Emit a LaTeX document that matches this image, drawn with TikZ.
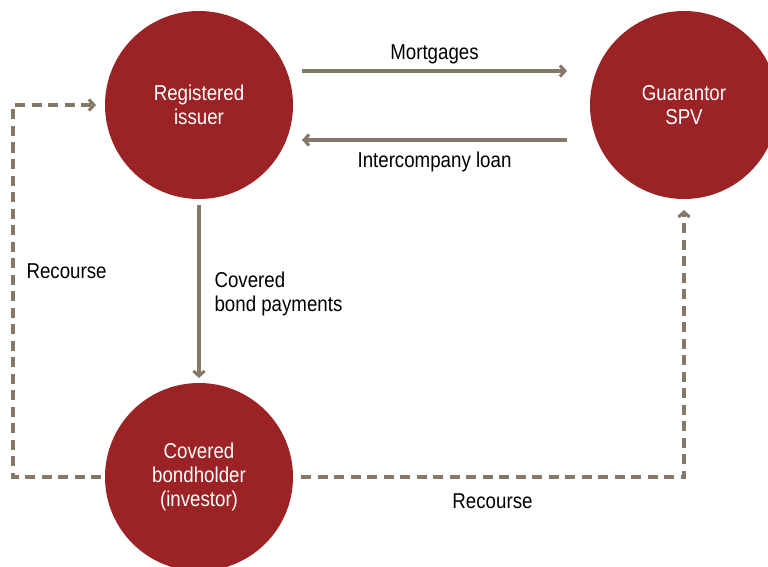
\documentclass[tikz,border=0pt]{standalone}
\usepackage{fontspec}
\setmainfont[FakeStretch=0.87]{Liberation Sans}
\usetikzlibrary{arrows.meta}
\definecolor{bankred}{RGB}{155,35,38}
\definecolor{flowgrey}{RGB}{134,120,104}

\begin{document}
\begin{tikzpicture}[x=1pt,y=-1pt]
    \tikzset{party/.style={circle, fill=bankred, text=white, minimum size=188pt,
            inner sep=0pt, outer sep=0pt, align=center, font=\fontsize{21.5}{24}\selectfont},
        flow/.style={draw=flowgrey, line width=3.1pt, -{Straight Barb[length=5pt,width=11pt]}},
        %   dashed links for recourse
        recourse/.style={flow, dash pattern=on 10pt off 6.5pt},
        lbl/.style={text=black, inner sep=0pt, align=left, font=\fontsize{21.5}{24}\selectfont}}
    \useasboundingbox (0,0) rectangle (768,567);
    \clip (0,0) rectangle (768,567);

    %Parteien
    \node[party] (issuer) at (199,105) {Registered\\issuer};
    \node[party] (spv)    at (684,105) {Guarantor\\SPV};
    \node[party] (holder) at (199,477) {Covered\\bondholder\\(investor)};

    %Zahlungen
    \draw[flow] ([xshift=9pt,yshift=34pt]issuer.east) -- ([xshift=-23pt,yshift=34pt]spv.west)
        node[lbl, midway, above=5pt] (mortgages) {Mortgages};
    \draw[flow] ([xshift=-23pt,yshift=-35pt]spv.west) -- ([xshift=9pt,yshift=-35pt]issuer.east)
        node[lbl, midway, below=10pt] (loan) {Intercompany loan};
    \draw[flow] ([yshift=-6pt]issuer.south) -- ([yshift=5pt]holder.north)
        node[lbl, midway, right=14pt, yshift=-2pt] (payments) {Covered\\bond payments};

    %Rückgriff
    \draw[recourse] ([xshift=-4pt]holder.west) -- ++(-88,0) |- ([xshift=-9pt]issuer.west)
        node[lbl, pos=0.276, right=12pt] (recleft) {Recourse};
    \draw[recourse] ([xshift=8pt]holder.east) -| ([yshift=-11pt]spv.south)
        node[lbl, pos=0.25, below=15pt] (recright) {Recourse};

\end{tikzpicture}
\end{document}
